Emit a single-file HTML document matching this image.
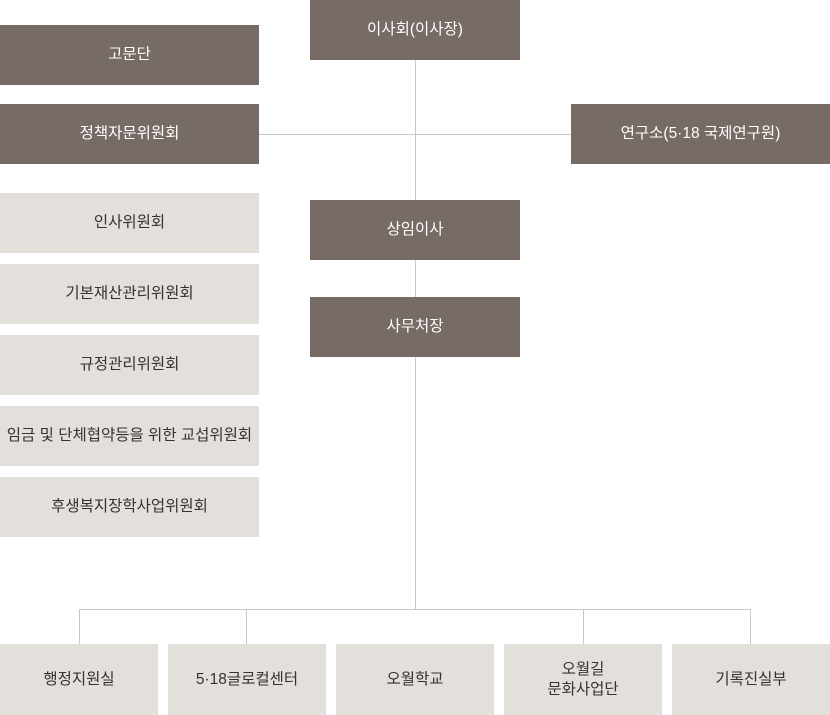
<!DOCTYPE html><html><head><meta charset="utf-8"><style>
body{margin:0;width:830px;height:715px;position:relative;background:#fff;font-family:"Liberation Sans","Noto Sans CJK KR",sans-serif;overflow:hidden}
.b{position:absolute;display:flex;align-items:center;justify-content:center;text-align:center;font-size:15.5px;line-height:20px}
.d{background:#776b66;color:#fff}
.l{background:#e3dfdb;color:#333}
.h{position:absolute;background:#c8c8c8;height:1px}
.v{position:absolute;background:#c8c8c8;width:1px}
</style></head><body>
<div class="v" style="left:415px;top:60px;height:550px"></div>
<div class="h" style="left:259px;top:134px;width:312px"></div>
<div class="h" style="left:79px;top:609px;width:672px"></div>
<div class="v" style="left:79px;top:609px;height:35px"></div>
<div class="v" style="left:246px;top:609px;height:35px"></div>
<div class="v" style="left:583px;top:609px;height:35px"></div>
<div class="v" style="left:750px;top:609px;height:35px"></div>
<div class="b d" style="left:310px;top:0;width:210px;height:60px">이사회(이사장)</div>
<div class="b d" style="left:0;top:25px;width:259px;height:60px">고문단</div>
<div class="b d" style="left:0;top:104px;width:259px;height:60px">정책자문위원회</div>
<div class="b d" style="left:571px;top:104px;width:259px;height:60px">연구소(5·18 국제연구원)</div>
<div class="b d" style="left:310px;top:200px;width:210px;height:60px">상임이사</div>
<div class="b d" style="left:310px;top:297px;width:210px;height:60px">사무처장</div>
<div class="b l" style="left:0;top:193px;width:259px;height:60px">인사위원회</div>
<div class="b l" style="left:0;top:264px;width:259px;height:60px">기본재산관리위원회</div>
<div class="b l" style="left:0;top:335px;width:259px;height:60px">규정관리위원회</div>
<div class="b l" style="left:0;top:406px;width:259px;height:60px">임금 및 단체협약등을 위한 교섭위원회</div>
<div class="b l" style="left:0;top:477px;width:259px;height:60px">후생복지장학사업위원회</div>
<div class="b l" style="left:0;top:644px;width:158px;height:71px">행정지원실</div>
<div class="b l" style="left:168px;top:644px;width:158px;height:71px">5·18글로컬센터</div>
<div class="b l" style="left:336px;top:644px;width:158px;height:71px">오월학교</div>
<div class="b l" style="left:504px;top:644px;width:158px;height:71px">오월길<br>문화사업단</div>
<div class="b l" style="left:672px;top:644px;width:158px;height:71px">기록진실부</div>
</body></html>
